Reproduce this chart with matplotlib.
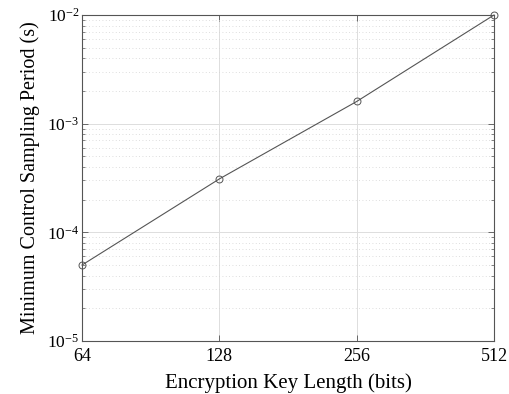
import matplotlib
matplotlib.use("Agg")
import matplotlib.pyplot as plt
import numpy as np
from matplotlib.ticker import FixedLocator, NullFormatter, LogLocator

# data
key_bits = [64, 128, 256, 512]
min_period = [5.0e-5, 3.1e-4, 1.6e-3, 1.0e-2]

plt.rcParams['font.family'] = ['Liberation Serif', 'DejaVu Serif']
plt.rcParams['mathtext.fontset'] = 'stix'

fig = plt.figure(figsize=(5.09, 3.94), dpi=100)
ax = fig.add_axes([82 / 509, 1 - 341 / 394, (494 - 82) / 509, (341 - 15) / 394])

ax.plot(key_bits, min_period, color='#555555', linewidth=0.8,
        marker='o', markersize=5, markerfacecolor='none',
        markeredgecolor='#555555', markeredgewidth=0.7, clip_on=False, zorder=3)

ax.set_xscale('log', base=2)
ax.set_yscale('log')
ax.set_xlim(64, 512)
ax.set_ylim(1e-5, 1e-2)

ax.xaxis.set_major_locator(FixedLocator(key_bits))
ax.set_xticklabels([str(k) for k in key_bits])
ax.xaxis.set_minor_formatter(NullFormatter())
ax.xaxis.set_minor_locator(FixedLocator([]))
ax.yaxis.set_major_locator(LogLocator(base=10, numticks=10))
ax.yaxis.set_minor_locator(LogLocator(base=10, subs=np.arange(2, 10), numticks=10))
ax.yaxis.set_minor_formatter(NullFormatter())

ax.grid(True, which='major', color='#dddddd', linewidth=0.7, linestyle='-')
ax.grid(True, which='minor', axis='y', color='#d4d4d4', linewidth=0.6, linestyle=(0, (1, 3)))
ax.set_axisbelow(True)

ax.tick_params(which='both', direction='in', top=True, right=True, labelsize=13,
               color='#555555')
ax.tick_params(which='major', length=4, width=0.6, pad=3)
ax.tick_params(which='minor', length=2, width=0.5)
ax.tick_params(axis='x', which='major', pad=5)
ax.tick_params(axis='y', which='major', labelsize=12.5, pad=2)
for s in ax.spines.values():
    s.set_color('#555555')
    s.set_linewidth(0.8)

ax.set_xlabel('Encryption Key Length (bits)', fontsize=15, labelpad=6)
ax.set_ylabel('Minimum Control Sampling Period (s)', fontsize=14.5, labelpad=5)

fig.savefig('out.png', dpi=100)
